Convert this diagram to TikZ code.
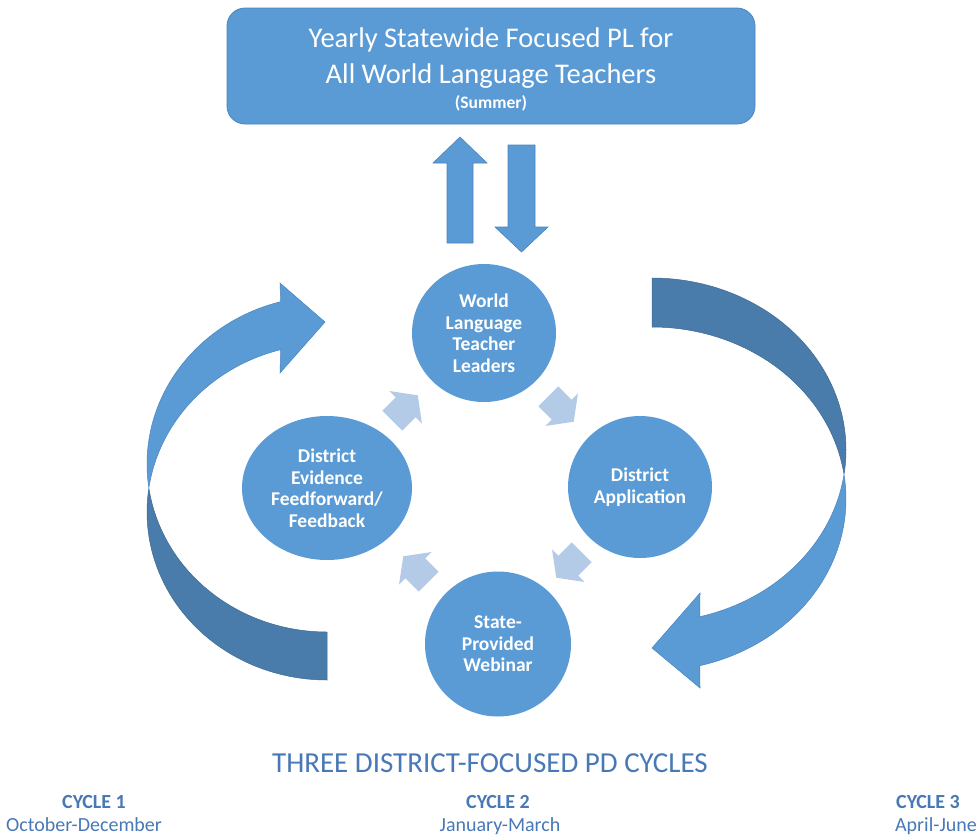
\documentclass[tikz,border=0pt]{standalone}
\usepackage{fontspec}
\setmainfont{Carlito}
\usetikzlibrary{shapes.geometric}

\definecolor{accent}{HTML}{5B9BD5}
\definecolor{accentdark}{HTML}{497CAB}
\definecolor{edge}{HTML}{4A84BF}
\definecolor{pale}{HTML}{B4CBE8}
\definecolor{title}{HTML}{4878B5}

\begin{document}
\begin{tikzpicture}[x=1pt,y=-1pt,
  panel/.style={rectangle, fill=accent, draw=edge, line width=0.8pt,
    rounded corners=18pt, minimum width=528, minimum height=116, inner sep=0pt},
  paneltext/.style={text=white, anchor=base, inner sep=0pt},
  hub/.style={ellipse, fill=accent, text=white, inner sep=0pt, align=center,
    font=\bfseries\fontsize{19.5}{21.5}\selectfont},
  block/.style={fill=accent, draw=edge, line width=0.6pt},
  ribbon/.style={fill=accent, draw=edge, line width=0.5pt},
  ribbonback/.style={fill=accentdark, draw=accentdark!85!black, line width=0.5pt},
  caption/.style={text=title, anchor=base, inner sep=0pt},
  cue arrow/.pic={\fill[pale] (-18,-14) -- (1,-14) -- (1,-23) -- (18,0)
     -- (1,23) -- (1,14) -- (-18,14) -- cycle;}
]
\useasboundingbox (0,0) rectangle (977,836);

% summer session banner
\node[panel] (pl) at (491,66) {};
\node[paneltext, font=\fontsize{28.5}{34}\selectfont] (pl1) at (491,47) {Yearly Statewide Focused PL for};
\node[paneltext, font=\fontsize{28.5}{34}\selectfont] (pl2) at (491,83) {All World Language Teachers};
\node[paneltext, font=\bfseries\fontsize{17.5}{20}\selectfont] (pl3) at (491,108) {(Summer)};

% two-way exchange between the banner and the teacher leaders
\draw[block] (447,243) -- (447,163) -- (433,163) -- (460,137) -- (487,163)
  -- (473,163) -- (473,243) -- cycle;
\draw[block] (508,145) -- (535,145) -- (535,227) -- (548,227) -- (521.5,252)
  -- (495,227) -- (508,227) -- cycle;

% left sweeping ribbon arrow (back face, then front face with head)
\draw[ribbonback] plot[domain=90:171.8, samples=60, variable=\t]
    ({327+180*cos(\t)},{464+168*sin(\t)})
  -- plot[domain=188.2:90, samples=60, variable=\t]
    ({327+180*cos(\t)},{512+168*sin(\t)}) -- cycle;
\draw[ribbon] plot[domain=255.1:171.8, samples=60, variable=\t]
    ({327+180*cos(\t)},{464+168*sin(\t)})
  -- plot[domain=188.2:255.1, samples=60, variable=\t]
    ({327+180*cos(\t)},{512+168*sin(\t)})
  -- (280,373) -- (325,322) -- (280,283) -- cycle;

% right sweeping ribbon arrow
\draw[ribbonback] plot[domain=-90:8.2, samples=60, variable=\t]
    ({652+194*cos(\t)},{450+172*sin(\t)})
  -- plot[domain=-8.2:-90, samples=60, variable=\t]
    ({652+194*cos(\t)},{499+172*sin(\t)}) -- cycle;
\draw[ribbon] plot[domain=-8.2:75.7, samples=60, variable=\t]
    ({652+194*cos(\t)},{499+172*sin(\t)})
  -- (700,688) -- (652,648) -- (700,593)
  -- plot[domain=75.7:8.2, samples=60, variable=\t]
    ({652+194*cos(\t)},{450+172*sin(\t)}) -- cycle;

% the four stages of a district cycle
\node[hub, minimum width=144, minimum height=138] (leaders) at (484,333)
  {World\\Language\\Teacher\\Leaders};
\node[hub, minimum width=144, minimum height=142] (apply) at (640,487)
  {District\\Application};
\node[hub, minimum width=146, minimum height=145] (webinar) at (498,644)
  {State-\\Provided\\Webinar};
\node[hub, minimum width=170, minimum height=144] (evidence) at (327,488)
  {District\\Evidence\\Feedforward/\\Feedback};

% small arrows around the cycle
\pic[rotate=45]   at (405,408) {cue arrow};
\pic[rotate=-45]  at (561,409) {cue arrow};
\pic[rotate=-135] at (569,565) {cue arrow};
\pic[rotate=135]  at (416,569) {cue arrow};

% captions
\node[caption, font=\fontsize{29}{33}\selectfont] (heading) at (490,772)
  {THREE DISTRICT-FOCUSED PD CYCLES};
\node[caption, font=\bfseries\fontsize{20}{24}\selectfont] (c1) at (94,808.5) {CYCLE 1};
\node[caption, font=\fontsize{20}{24}\selectfont] (d1) at (84,831) {October-December};
\node[caption, font=\bfseries\fontsize{20}{24}\selectfont] (c2) at (498,808.5) {CYCLE 2};
\node[caption, font=\fontsize{20}{24}\selectfont] (d2) at (500,831) {January-March};
\node[caption, font=\bfseries\fontsize{20}{24}\selectfont] (c3) at (928,808.5) {CYCLE 3};
\node[caption, font=\fontsize{20}{24}\selectfont] (d3) at (936,831) {April-June};
\end{tikzpicture}
\end{document}
